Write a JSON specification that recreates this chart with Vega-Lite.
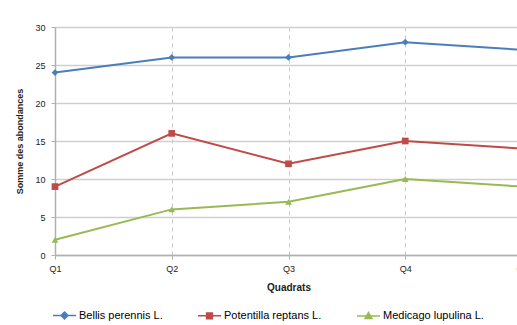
{
  "$schema": "https://vega.github.io/schema/vega-lite/v6.json",
  "autosize": "none",
  "width": 467,
  "height": 228,
  "padding": {"left": 55, "top": 27, "right": 10, "bottom": 70},
  "background": "white",
  "config": {
    "font": "Liberation Sans",
    "view": {"stroke": null},
    "axis": {"labelFont": "Liberation Sans", "titleFont": "Liberation Sans", "labelColor": "#222", "titleColor": "#222"}
  },
  "data": {
    "values": [
      {"q": "Q1", "species": "Bellis perennis L.", "v": 24},
      {"q": "Q2", "species": "Bellis perennis L.", "v": 26},
      {"q": "Q3", "species": "Bellis perennis L.", "v": 26},
      {"q": "Q4", "species": "Bellis perennis L.", "v": 28},
      {"q": "Q5", "species": "Bellis perennis L.", "v": 27},
      {"q": "Q1", "species": "Potentilla reptans L.", "v": 9},
      {"q": "Q2", "species": "Potentilla reptans L.", "v": 16},
      {"q": "Q3", "species": "Potentilla reptans L.", "v": 12},
      {"q": "Q4", "species": "Potentilla reptans L.", "v": 15},
      {"q": "Q5", "species": "Potentilla reptans L.", "v": 14},
      {"q": "Q1", "species": "Medicago lupulina L.", "v": 2},
      {"q": "Q2", "species": "Medicago lupulina L.", "v": 6},
      {"q": "Q3", "species": "Medicago lupulina L.", "v": 7},
      {"q": "Q4", "species": "Medicago lupulina L.", "v": 10},
      {"q": "Q5", "species": "Medicago lupulina L.", "v": 9}
    ]
  },
  "encoding": {
    "x": {
      "field": "q", "type": "ordinal",
      "scale": {"type": "point", "padding": 0},
      "axis": {
        "title": "Quadrats", "titleFontSize": 10, "titleFontWeight": "bold", "titlePadding": 9,
        "labelAngle": 0, "labelFontSize": 9, "labelPadding": 5,
        "grid": true, "gridDash": [4, 4], "gridColor": "#c8c8c8",
        "domainColor": "#b0b0b0", "domainWidth": 1.5, "tickColor": "#b0b0b0", "tickSize": 4
      }
    },
    "y": {
      "field": "v", "type": "quantitative",
      "scale": {"domain": [0, 30], "nice": false},
      "axis": {
        "title": "Somme des abondances", "titleFontSize": 9, "titleFontWeight": "bold", "titlePadding": 10,
        "values": [0, 5, 10, 15, 20, 25, 30], "labelFontSize": 9, "labelPadding": 6,
        "gridColor": "#cfcfcf", "gridWidth": 1.5,
        "domainColor": "#b0b0b0", "domainWidth": 1.5, "tickColor": "#b0b0b0", "tickSize": 4
      }
    },
    "color": {
      "field": "species", "type": "nominal",
      "scale": {"domain": ["Bellis perennis L.", "Potentilla reptans L.", "Medicago lupulina L."], "range": ["#4a7ebb", "#be4b48", "#98b954"]},
      "legend": {
        "title": null, "orient": "none", "direction": "horizontal",
        "legendX": -3, "legendY": 276, "columnPadding": 32,
        "labelFontSize": 11, "labelOffset": 2, "symbolSize": 529, "symbolStrokeWidth": 1.5,
        "encode": {
          "symbols": {
            "update": {
              "shape": {"signal": "datum.value === 'Bellis perennis L.' ? 'M-1,0H1M0,-0.3L0.3,0L0,0.3L-0.3,0Z' : datum.value === 'Potentilla reptans L.' ? 'M-1,0H1M-0.25,-0.25H0.25V0.25H-0.25Z' : 'M-1,0H1M0,-0.3L0.3,0.22H-0.3Z'"},
              "fill": {"scale": "color", "field": "value"},
              "stroke": {"scale": "color", "field": "value"},
              "strokeWidth": {"value": 1.5},
              "opacity": {"value": 1}
            }
          }
        }
      }
    }
  },
  "layer": [
    {"mark": {"type": "line", "strokeWidth": 2}},
    {
      "transform": [{"filter": "datum.species === 'Bellis perennis L.'"}],
      "mark": {"type": "point", "filled": true, "size": 45, "opacity": 1, "shape": "diamond"}
    },
    {
      "transform": [{"filter": "datum.species === 'Potentilla reptans L.'"}],
      "mark": {"type": "point", "filled": true, "size": 45, "opacity": 1, "shape": "square"}
    },
    {
      "transform": [{"filter": "datum.species === 'Medicago lupulina L.'"}],
      "mark": {"type": "point", "filled": true, "size": 45, "opacity": 1, "shape": "triangle-up"}
    }
  ]
}
